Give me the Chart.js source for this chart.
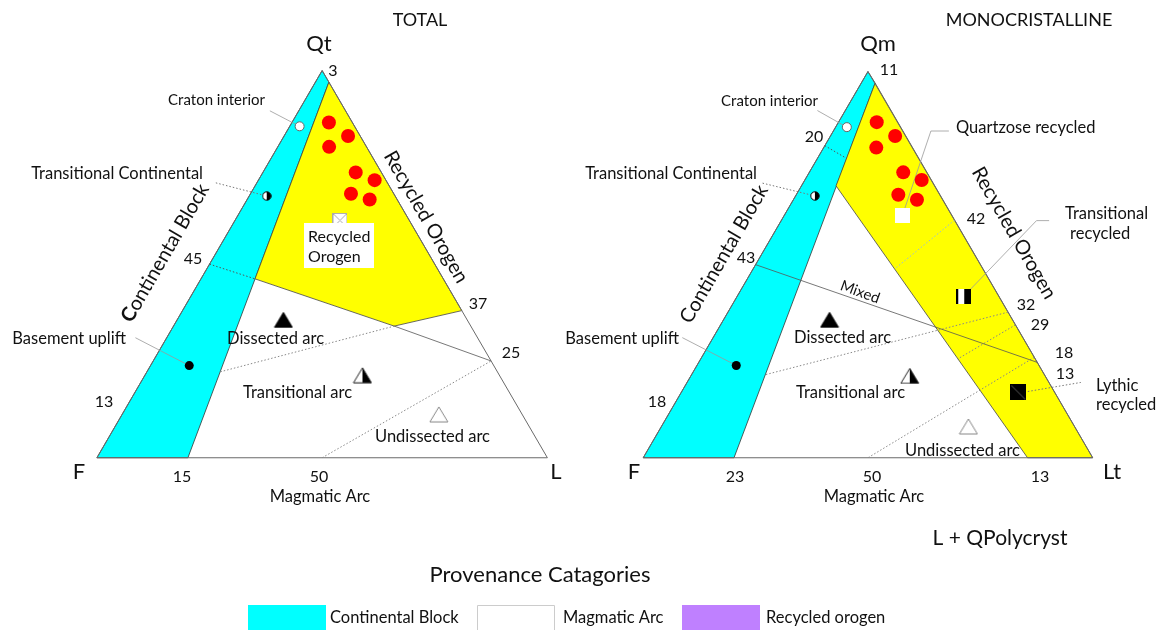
<!DOCTYPE html>
<html>
<head>
<meta charset="utf-8">
<script src="https://cdn.jsdelivr.net/npm/chart.js@4.4.1/dist/chart.umd.min.js"></script>
<style>
  html, body { margin: 0; padding: 0; background: #fff; }
  #wrap { position: relative; width: 1158px; height: 630px; }
</style>
</head>
<body>
<div id="wrap"><canvas id="chart" width="1158" height="630"></canvas></div>
<script>
// Ternary points are [Q, L] in percent, F = 100 - Q - L

// samples (red dots)
const samplesTotal = [[86.6, 8.2], [83.1, 14.2], [80.3, 11.4], [73.7, 20.6], [71.7, 25.8], [68.2, 22.3], [66.7, 27.2]];
const samplesMono = [[86.9, 8.5], [83.3, 14.4], [80.3, 11.7], [73.9, 20.9], [71.9, 26.0], [68.1, 22.7], [66.8, 27.5]];

// provenance field symbols, QtFL
const cratonTotal = [[85.6, 2.2]];
const transContTotal = [[67.6, 3.9]];
const basementTotal = [[23.8, 8.6]];
const recycledTotal = [[61.3, 23.3]];
const dissectedTotal = [[35.6, 23.6]];
const transArcTotal = [[21.3, 48.3]];
const undissectedTotal = [[11.2, 70.3]];

// provenance field symbols, QmFLt
const cratonMono = [[85.6, 2.5]];
const transContMono = [[67.8, 4.3]];
const basementMono = [[23.9, 8.75]];
const quartzoseMono = [[62.7, 26.3]];
const transRecycledMono = [[41.8, 50.4]];
const lithicMono = [[16.9, 75.0]];
const dissectedMono = [[35.7, 23.6]];
const transArcMono = [[21.2, 48.7]];
const undissectedMono = [[8.1, 68.3]];

// field boundaries
const outline = [[100, 0], [0, 0], [0, 100], [100, 0]];
const cyanTotal = [[100, 0], [0, 0], [0, 20.2], [97, 3], [100, 0]];
const yellowTotal = [[97, 3], [38, 62], [34, 49], [46.2, 12], [97, 3]];
const line45Total = [[50, 0], [46.2, 12]];
const line25Total = [[34, 49], [25, 75]];
const lineArcTotal = [[22.2, 16.3], [34, 49]];
const line50Total = [[0, 50], [25, 75]];

const cyanMono = [[100, 0], [0, 0], [0, 20.2], [97, 3.1], [100, 0]];
const yellowMono = [[97, 3.1], [0, 100], [0, 85.5], [70.4, 7.7], [97, 3.1]];
const line20Mono = [[80.8, 0], [77.5, 6.5]];
const mixedMono = [[50, 0], [24.7, 75.3]];
const line42Mono = [[61.5, 38.5], [48.9, 31.5]];
const line32Mono = [[37.7, 62.3], [21.5, 16.4]];
const line29Mono = [[34.4, 65.6], [25.6, 57.2]];
const line18Mono = [[26, 74], [0, 50]];

// label leaders
const leadersTotal = [
  [[89.6, -6.4], [85.6, 2.2]],
  [[31.0, -6.95], [23.8, 8.6]]
];
const leaderTransContTotal = [[71.0, -9.1], [67.6, 3.9]];
const leadersMono = [
  [[89.9, -6.2], [85.6, 2.5]],
  [[31.1, -6.85], [23.9, 8.75]],
  [[62.7, 26.3], [84.6, 21.7], [84.6, 25.7]],
  [[41.8, 50.4], [61.4, 56.8], [61.4, 59.6]]
];
const leaderTransContMono = [[71.1, -9.0], [67.8, 4.3]];
const leaderLithicMono = [[17.0, 76.3], [19.5, 87.6]];

// legend
const provenance = ['Continental Block', 'Magmatic Arc', 'Recycled orogen'];
const provenanceColors = ['#00ffff', '#ffffff', '#bf80ff'];

const W = 1158, H = 630;
const FONT = 'Lato, "Open Sans", sans-serif';

function toXY(p) {
  return { x: p[1] + p[0] / 2, y: p[0] };
}

function rangeX(px0, perUnit) {
  return { min: -px0 / perUnit, max: (W - px0) / perUnit };
}
function rangeY(py0, perUnit) {
  return { min: -(H - py0) / perUnit, max: py0 / perUnit };
}

function axes(side) {
  return side === 'total' ? { xAxisID: 'x', yAxisID: 'y' } : { xAxisID: 'x2', yAxisID: 'y2' };
}

function lineSet(points, side, opts) {
  return Object.assign({
    data: points.map(toXY),
    showLine: true,
    pointRadius: 0,
    borderWidth: 1,
    borderColor: '#666',
    backgroundColor: 'transparent',
    fill: false,
    tension: 0,
    order: 2
  }, axes(side), opts);
}

function markSet(points, side, style, opts) {
  return Object.assign({
    data: points.map(toXY),
    showLine: false,
    pointStyle: style,
    pointRadius: 5,
    borderWidth: 0,
    order: 0
  }, axes(side), opts);
}

// little canvases for the custom symbols
function makeIcon(w, h, draw) {
  const c = document.createElement('canvas');
  c.width = w; c.height = h;
  const g = c.getContext('2d');
  draw(g, w, h);
  return c;
}

const halfCircle = makeIcon(10, 10, (g) => {
  g.beginPath(); g.arc(5, 5, 4.2, 0, Math.PI * 2); g.fillStyle = '#fff'; g.fill();
  g.beginPath(); g.arc(5, 5, 4.2, -Math.PI / 2, Math.PI / 2); g.closePath(); g.fillStyle = '#000'; g.fill();
  g.beginPath(); g.arc(5, 5, 4.2, 0, Math.PI * 2); g.strokeStyle = '#000'; g.lineWidth = 1; g.stroke();
});

function triangleIcon(fill, stroke, half) {
  return makeIcon(20, 17, (g, w, h) => {
    g.beginPath(); g.moveTo(w / 2, 1); g.lineTo(w - 1, h - 1); g.lineTo(1, h - 1); g.closePath();
    g.fillStyle = fill; g.fill();
    if (half) {
      g.beginPath(); g.moveTo(w / 2, 1); g.lineTo(w - 1, h - 1); g.lineTo(w / 2, h - 1); g.closePath();
      g.fillStyle = '#000'; g.fill();
    }
    g.beginPath(); g.moveTo(w / 2, 1); g.lineTo(w - 1, h - 1); g.lineTo(1, h - 1); g.closePath();
    g.strokeStyle = stroke; g.lineWidth = 1; g.stroke();
  });
}
const triBlack = triangleIcon('#000', '#000', false);
const triHalf = triangleIcon('#fff', '#222', true);
const triWhite = triangleIcon('#fff', '#888', false);

const squareCross = makeIcon(15, 15, (g) => {
  g.fillStyle = '#fff'; g.fillRect(0, 0, 15, 15);
  g.strokeStyle = '#aaa'; g.lineWidth = 1; g.strokeRect(0.5, 0.5, 14, 14);
  g.beginPath(); g.moveTo(1, 1); g.lineTo(14, 14); g.moveTo(14, 1); g.lineTo(1, 14); g.stroke();
});
const squareWhite = makeIcon(15, 15, (g) => { g.fillStyle = '#fff'; g.fillRect(0, 0, 15, 15); });
const squareHalf = makeIcon(15, 15, (g) => {
  g.fillStyle = '#fff'; g.fillRect(0, 0, 15, 15);
  g.fillStyle = '#000'; g.fillRect(8, 0, 7, 15); g.fillRect(0, 0, 2, 15);
});
const squareLithic = makeIcon(16, 16, (g) => {
  g.fillStyle = '#000'; g.fillRect(0, 0, 16, 16);
  g.strokeStyle = '#555'; g.lineWidth = 1;
  g.beginPath(); g.moveTo(1, 1); g.lineTo(15, 15); g.stroke();
});

const dotted = [1.5, 2];

const datasets = [];
['total', 'mono'].forEach(side => {
  const t = side === 'total';
  datasets.push(lineSet(t ? cyanTotal : cyanMono, side, {
    fill: 'shape', backgroundColor: '#00ffff', borderColor: '#333', borderWidth: 0.8, order: 5
  }));
  datasets.push(lineSet(t ? yellowTotal : yellowMono, side, {
    fill: 'shape', backgroundColor: '#ffff00', borderColor: '#444', borderWidth: 0.8, order: 4
  }));
  datasets.push(lineSet(outline, side, { borderColor: '#6a6a6a', borderWidth: 1, order: 3 }));
});

// internal boundaries, QtFL
datasets.push(lineSet(line45Total, 'total', { borderDash: dotted, borderColor: '#555' }));
datasets.push(lineSet(line25Total, 'total', { borderColor: '#555', borderWidth: 0.8 }));
datasets.push(lineSet(lineArcTotal, 'total', { borderDash: dotted, borderColor: '#888' }));
datasets.push(lineSet(line50Total, 'total', { borderDash: dotted, borderColor: '#888' }));

// internal boundaries, QmFLt
datasets.push(lineSet(line20Mono, 'mono', { borderDash: dotted, borderColor: '#555' }));
datasets.push(lineSet(mixedMono, 'mono', { borderColor: '#555', borderWidth: 0.8 }));
datasets.push(lineSet(line42Mono, 'mono', { borderDash: dotted, borderColor: '#9bd' }));
datasets.push(lineSet(line32Mono, 'mono', { borderDash: dotted, borderColor: '#888' }));
datasets.push(lineSet(line29Mono, 'mono', { borderDash: dotted, borderColor: '#888' }));
datasets.push(lineSet(line18Mono, 'mono', { borderDash: dotted, borderColor: '#888' }));

// leaders
leadersTotal.forEach(l => datasets.push(lineSet(l, 'total', { borderColor: '#999', borderWidth: 0.8, order: 1 })));
leadersMono.forEach(l => datasets.push(lineSet(l, 'mono', { borderColor: '#999', borderWidth: 0.8, order: 1 })));
datasets.push(lineSet(leaderTransContTotal, 'total', { borderColor: '#777', borderDash: dotted, order: 1 }));
datasets.push(lineSet(leaderTransContMono, 'mono', { borderColor: '#777', borderDash: dotted, order: 1 }));
datasets.push(lineSet(leaderLithicMono, 'mono', { borderColor: '#777', borderDash: dotted, order: 1 }));

// symbols
datasets.push(markSet(samplesTotal, 'total', 'circle', { pointRadius: 7, backgroundColor: '#ff0000' }));
datasets.push(markSet(samplesMono, 'mono', 'circle', { pointRadius: 7, backgroundColor: '#ff0000' }));
[[cratonTotal, 'total'], [cratonMono, 'mono']].forEach(([d, s]) =>
  datasets.push(markSet(d, s, 'circle', { pointRadius: 4.5, backgroundColor: '#fff', borderColor: '#666', borderWidth: 1 })));
[[basementTotal, 'total'], [basementMono, 'mono']].forEach(([d, s]) =>
  datasets.push(markSet(d, s, 'circle', { pointRadius: 4.5, backgroundColor: '#000' })));
[[transContTotal, 'total'], [transContMono, 'mono']].forEach(([d, s]) =>
  datasets.push(markSet(d, s, halfCircle)));
[[dissectedTotal, 'total'], [dissectedMono, 'mono']].forEach(([d, s]) => datasets.push(markSet(d, s, triBlack)));
[[transArcTotal, 'total'], [transArcMono, 'mono']].forEach(([d, s]) => datasets.push(markSet(d, s, triHalf)));
[[undissectedTotal, 'total'], [undissectedMono, 'mono']].forEach(([d, s]) => datasets.push(markSet(d, s, triWhite)));
datasets.push(markSet(recycledTotal, 'total', squareCross));
datasets.push(markSet(quartzoseMono, 'mono', squareWhite));
datasets.push(markSet(transRecycledMono, 'mono', squareHalf));
datasets.push(markSet(lithicMono, 'mono', squareLithic));

// text: [text, x, y, size, align]
const labels = [
  ['TOTAL', 420, 20, 18, 'center'], ['Qt', 319, 44, 22, 'center'], ['3', 333, 71, 16, 'center'],
  ['Craton interior', 265, 100, 15, 'right'], ['Transitional Continental', 203, 174, 16.5, 'right'],
  ['45', 193, 259, 16, 'center'], ['13', 104, 402, 16, 'center'], ['37', 478, 304, 16, 'center'],
  ['25', 511, 353, 16, 'center'], ['Basement uplift', 126, 339, 16.5, 'right'],
  ['Dissected arc', 227, 339, 16.5, 'left'], ['Transitional arc', 243, 393, 16.5, 'left'],
  ['Undissected arc', 375, 437, 16.5, 'left'], ['F', 79, 472, 22, 'center'], ['15', 182, 477, 16, 'center'],
  ['50', 319, 477, 16, 'center'], ['L', 556, 472, 22, 'center'], ['Magmatic Arc', 320, 497, 16.5, 'center'],

  ['MONOCRISTALLINE', 1029, 20, 18, 'center'], ['Qm', 878, 44, 22, 'center'], ['11', 889, 70, 16, 'center'],
  ['Craton interior', 818, 101, 15, 'right'], ['20', 814, 137, 16, 'center'],
  ['Transitional Continental', 757, 174, 16.5, 'right'], ['Quartzose recycled', 956, 128, 16.5, 'left'],
  ['42', 976, 219, 16, 'center'], ['Transitional', 1065, 214, 16.5, 'left'], ['recycled', 1070, 234, 16.5, 'left'],
  ['43', 746, 258, 16, 'center'], ['32', 1026, 305, 16, 'center'], ['29', 1040, 325, 16, 'center'],
  ['18', 1064, 353, 16, 'center'], ['13', 1065, 374, 16, 'center'], ['Lythic', 1096, 386, 16.5, 'left'],
  ['recycled', 1096, 405, 16.5, 'left'], ['Basement uplift', 679, 339, 16.5, 'right'],
  ['Dissected arc', 794, 338, 16.5, 'left'], ['18', 657, 402, 16, 'center'],
  ['Transitional arc', 796, 393, 16.5, 'left'], ['Undissected arc', 905, 451, 16.5, 'left'],
  ['F', 634, 472, 22, 'center'], ['23', 735, 477, 16, 'center'], ['50', 872, 477, 16, 'center'],
  ['13', 1040, 477, 16, 'center'], ['Lt', 1112, 472, 22, 'center'], ['Magmatic Arc', 874, 497, 16.5, 'center'],
  ['L + QPolycryst', 1000, 538, 21, 'center'],

  ['Provenance Catagories', 540, 575, 22, 'center']
];
// rotated text: [text, x, y, size, degrees]
const rotated = [
  ['Recycled Orogen', 426, 217, 20, 60],
  ['Continental Block', 724, 254, 20, -60],
  ['Recycled Orogen', 1014, 233, 20, 60],
  ['Mixed', 860, 292, 15, 20]
];

const textPlugin = {
  id: 'texts',
  afterDraw(chart) {
    const ctx = chart.ctx;
    ctx.save();
    ctx.textBaseline = 'middle';

    // white box behind "Recycled Orogen" in the left diagram
    ctx.fillStyle = '#fff';
    ctx.fillRect(304, 223, 70, 45);
    ctx.fillStyle = '#111';
    ctx.font = '16px ' + FONT;
    ctx.textAlign = 'left';
    ctx.fillText('Recycled', 308, 237);
    ctx.fillText('Orogen', 308, 257);

    labels.forEach(([t, x, y, s, a]) => {
      ctx.font = s + 'px ' + FONT;
      ctx.textAlign = a;
      ctx.fillText(t, x, y);
    });

    rotated.forEach(([t, x, y, s, deg]) => {
      ctx.save();
      ctx.translate(x, y);
      ctx.rotate(deg * Math.PI / 180);
      ctx.font = s + 'px ' + FONT;
      ctx.textAlign = 'center';
      ctx.fillText(t, 0, 0);
      ctx.restore();
    });

    // left "Continental Block" with a bold first letter
    ctx.save();
    ctx.translate(165, 253);
    ctx.rotate(-60 * Math.PI / 180);
    ctx.font = 'bold 20px ' + FONT;
    const cw = ctx.measureText('C').width;
    ctx.font = '20px ' + FONT;
    const rw = ctx.measureText('ontinental Block').width;
    ctx.textAlign = 'left';
    ctx.font = 'bold 20px ' + FONT;
    ctx.fillText('C', -(cw + rw) / 2, 0);
    ctx.font = '20px ' + FONT;
    ctx.fillText('ontinental Block', -(cw + rw) / 2 + cw, 0);
    ctx.restore();

    // legend boxes
    const boxX = [248, 477, 682];
    const textX = [330, 563, 766];
    provenance.forEach((name, i) => {
      ctx.fillStyle = provenanceColors[i];
      ctx.fillRect(boxX[i], 605, 78, 26);
      if (i === 1) {
        ctx.strokeStyle = '#ccc';
        ctx.lineWidth = 1;
        ctx.beginPath();
        ctx.moveTo(boxX[i] + 0.5, 631); ctx.lineTo(boxX[i] + 0.5, 605.5);
        ctx.lineTo(boxX[i] + 77.5, 605.5); ctx.lineTo(boxX[i] + 77.5, 631);
        ctx.stroke();
      }
      ctx.fillStyle = '#111';
      ctx.font = '16.5px ' + FONT;
      ctx.textAlign = 'left';
      ctx.fillText(name, textX[i], 618);
    });
    ctx.restore();
  }
};

const rx1 = rangeX(91, 4.56), ry1 = rangeY(461, 3.96);
const rx2 = rangeX(644, 4.55), ry2 = rangeY(461, 3.95);

new Chart(document.getElementById('chart').getContext('2d'), {
  type: 'scatter',
  data: { datasets: datasets },
  options: {
    responsive: false,
    animation: false,
    events: [],
    layout: { padding: 0 },
    plugins: { legend: { display: false }, tooltip: { enabled: false } },
    scales: {
      x: { type: 'linear', display: false, bounds: 'data', min: rx1.min, max: rx1.max },
      y: { type: 'linear', display: false, bounds: 'data', min: ry1.min, max: ry1.max },
      x2: { type: 'linear', axis: 'x', display: false, bounds: 'data', min: rx2.min, max: rx2.max },
      y2: { type: 'linear', axis: 'y', display: false, bounds: 'data', min: ry2.min, max: ry2.max }
    }
  },
  plugins: [textPlugin]
});
</script>
</body>
</html>
